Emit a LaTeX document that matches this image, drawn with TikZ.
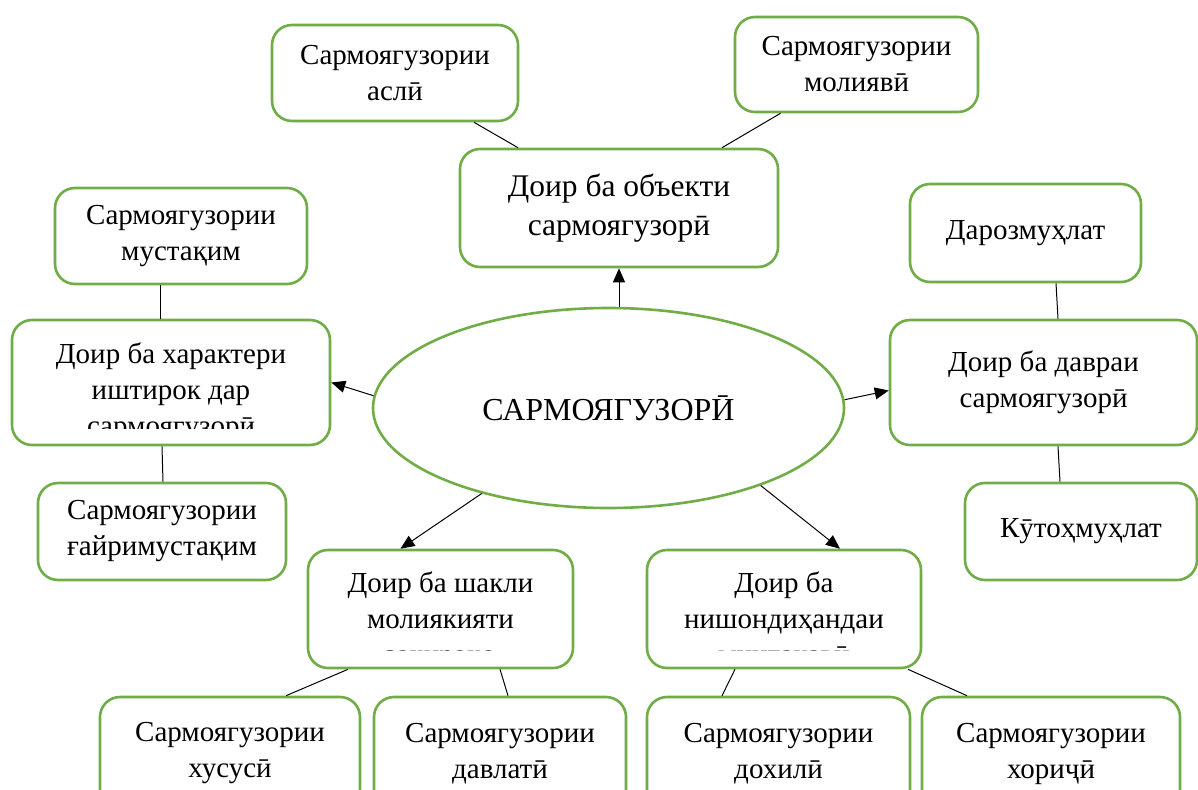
\documentclass[tikz,border=0pt]{standalone}
\usepackage{fontspec}
\setmainfont{Liberation Serif}
\usetikzlibrary{shapes.geometric,arrows.meta,calc}
\definecolor{gr}{HTML}{70AD47}
\tikzset{
  gbox/.style={draw=gr,line width=2.6pt,rounded corners=20pt,fill=white,inner sep=0pt,align=center,
    font=\fontsize{29}{36}\selectfont},
  txt/.style={inner sep=0pt,align=center,font=\fontsize{29}{36}\selectfont,anchor=north},
  conn/.style={draw=black,line width=1pt},
  arr/.style={draw=black,line width=1pt,-{Triangle[length=14pt,width=12pt]}}
}
\begin{document}
\begin{tikzpicture}[x=1pt,y=-1pt]
\useasboundingbox (0,0) rectangle (1198,789);
\clip (0,0) rectangle (1198,789);
\fill[white] (0,0) rectangle (1198,789);

% central ellipse
\node[ellipse,draw=gr,line width=2.6pt,minimum width=471pt,minimum height=200pt,inner sep=0pt,
  font=\fontsize{32}{38}\selectfont] (e) at (608.5,408) {САРМОЯГУЗОРӢ};

% top
\node[gbox,minimum width=246pt,minimum height=96pt] (asli) at (395,73) {Сармоягузории\\аслӣ};
\node[gbox,minimum width=243pt,minimum height=95pt] (moliyavi) at (856.5,64.5) {Сармоягузории\\молиявӣ};
\node[gbox,minimum width=318pt,minimum height=118pt,font=\fontsize{31.5}{39}\selectfont] (obyekt) at (619,208) {Доир ба объекти\\сармоягузорӣ};

% left
\node[gbox,minimum width=252pt,minimum height=96pt] (mustaqim) at (181,236) {Сармоягузории\\мустақим};
\node[gbox,minimum width=318pt,minimum height=125pt] (xarakter) at (171,382.5) {};
\begin{scope}
\clip (14,322) rectangle (328,428);
\node[txt] (txa) at (171,343) {Доир ба характери\\иштирок дар\\сармоягузорӣ};
\end{scope}
\node[gbox,minimum width=248pt,minimum height=97pt] (gayri) at (162,531.5) {Сармоягузории\\ғайримустақим};

% right
\node[gbox,minimum width=231pt,minimum height=98pt] (daroz) at (1025.5,233) {Дарозмуҳлат};
\node[gbox,minimum width=307pt,minimum height=125pt] (davra) at (1043.5,382.5) {Доир ба давраи\\сармоягузорӣ};
\node[gbox,minimum width=232pt,minimum height=97pt] (kutoh) at (1081,531.5) {Кӯтоҳмуҳлат};

% bottom middle
\node[gbox,minimum width=265pt,minimum height=118pt] (shakl) at (440.5,609) {};
\begin{scope}
\clip (310,552) rectangle (571,650);
\node[txt] (txb) at (440.5,572) {Доир ба шакли\\молиякияти\\захираҳо};
\end{scope}
\node[gbox,minimum width=274pt,minimum height=118pt] (nishon) at (784,609) {};
\begin{scope}
\clip (649,552) rectangle (919,650);
\node[txt] (txc) at (784,572) {Доир ба\\нишондиҳандаи\\минтақавӣ};
\end{scope}

% bottom row
\node[gbox,minimum width=260pt,minimum height=113pt] (xususi) at (230,753.5) {Сармоягузории\\хусусӣ};
\node[gbox,minimum width=252pt,minimum height=113pt] (davlati) at (500,753.5) {Сармоягузории\\давлатӣ};
\node[gbox,minimum width=263pt,minimum height=113pt] (doxili) at (778.5,753.5) {Сармоягузории\\дохилӣ};
\node[gbox,minimum width=258pt,minimum height=113pt] (xoriji) at (1051,753.5) {Сармоягузории\\хориҷӣ};

% arrows from ellipse
\draw[arr] (obyekt.south |- e.north) -- (obyekt.south);
\draw[arr] (e.177) -- (xarakter.east);
\draw[arr] (e.2.4) -- ($(davra.west)+(0,8)$);
\draw[arr] (e.214) -- ($(shakl.north)+(-40,0)$);
\draw[arr] (e.333) -- ($(nishon.north)+(56,0)$);

% plain connectors
\draw[conn] ($(asli.south)+(79,0)$) -- ($(obyekt.north)+(-101,0)$);
\draw[conn] ($(moliyavi.south)+(-76,0)$) -- ($(obyekt.north)+(103,0)$);
\draw[conn] ($(mustaqim.south)+(-21,0)$) -- ($(xarakter.north)+(-11,0)$);
\draw[conn] ($(xarakter.south)+(-9,0)$) -- ($(gayri.north)+(1,0)$);
\draw[conn] ($(daroz.south)+(30.5,0)$) -- ($(davra.north)+(14.5,0)$);
\draw[conn] ($(davra.south)+(14.5,0)$) -- ($(kutoh.north)+(-21,0)$);
\draw[conn] ($(shakl.south)+(-92.5,0)$) -- ($(xususi.north)+(56,0)$);
\draw[conn] ($(shakl.south)+(59.5,0)$) -- ($(davlati.north)+(8,0)$);
\draw[conn] ($(nishon.south)+(-49,0)$) -- ($(doxili.north)+(-56.5,0)$);
\draw[conn] ($(nishon.south)+(124,0)$) -- ($(xoriji.north)+(-84,0)$);
\end{tikzpicture}
\end{document}
